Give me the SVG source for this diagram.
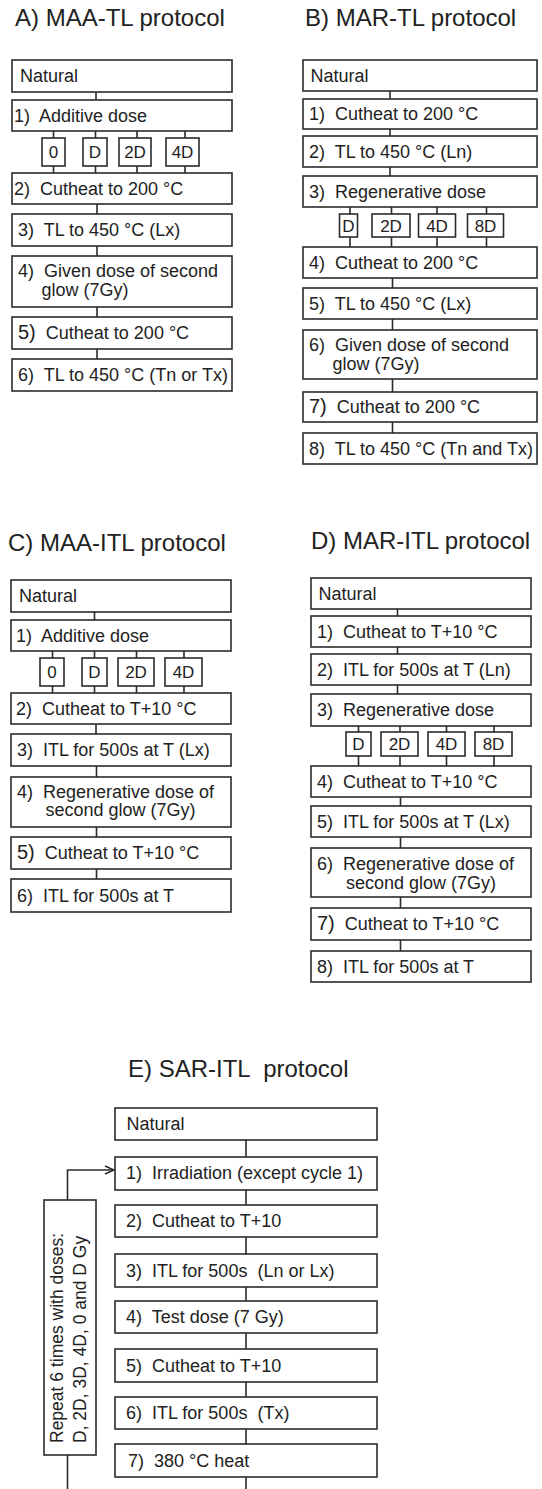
<svg xmlns="http://www.w3.org/2000/svg" width="542" height="1489" viewBox="0 0 542 1489">
<defs>
<style>
text{font-family:"Liberation Sans",Arial,sans-serif;fill:#222;white-space:pre}
.title{font-size:24px}
.t{font-size:18px}
.s{font-size:17px;text-anchor:middle}
.big{font-size:20px}
.rt{font-size:17.5px}
rect{fill:#fff;stroke:#2b2b2b;stroke-width:1.6}
.c line,.c path{stroke:#2b2b2b;stroke-width:1.6;fill:none}
</style>
<marker id="arr" markerWidth="12" markerHeight="10" refX="10" refY="5" orient="auto" markerUnits="userSpaceOnUse">
<path d="M1,1 L10,5 L1,9" fill="none" stroke="#2b2b2b" stroke-width="1.5"/>
</marker>
</defs>
<rect x="0" y="0" width="542" height="1489" style="fill:#fff;stroke:none"/>

<!-- Titles -->
<text class="title" x="15" y="26">A) MAA-TL protocol</text>
<text class="title" x="305" y="26">B) MAR-TL protocol</text>
<text class="title" x="8" y="551">C) MAA-ITL protocol</text>
<text class="title" x="311" y="549">D) MAR-ITL protocol</text>
<text class="title" x="128" y="1077">E) SAR-ITL  protocol</text>

<!-- Connectors -->
<g class="c" id="connectors">
<!-- A -->
<line x1="96" y1="92" x2="96" y2="100"/>
<line x1="53.5" y1="131" x2="53.5" y2="138"/><line x1="95.5" y1="131" x2="95.5" y2="138"/><line x1="137" y1="131" x2="137" y2="138"/><line x1="185" y1="131" x2="185" y2="138"/>
<line x1="53.5" y1="166" x2="53.5" y2="173"/><line x1="95.5" y1="166" x2="95.5" y2="173"/><line x1="137" y1="166" x2="137" y2="173"/><line x1="185" y1="166" x2="185" y2="173"/>
<line x1="97" y1="204" x2="97" y2="214"/>
<line x1="97" y1="246" x2="97" y2="256"/>
<line x1="97" y1="307" x2="97" y2="317"/>
<line x1="97" y1="349" x2="97" y2="359"/>
<!-- B -->
<line x1="390" y1="91" x2="390" y2="99"/>
<line x1="390" y1="129" x2="390" y2="136"/>
<line x1="390" y1="167" x2="390" y2="176"/>
<line x1="350" y1="207" x2="350" y2="214"/><line x1="391.5" y1="207" x2="391.5" y2="214"/><line x1="437" y1="207" x2="437" y2="214"/><line x1="486.5" y1="207" x2="486.5" y2="214"/>
<line x1="350" y1="237" x2="350" y2="247"/><line x1="391.5" y1="237" x2="391.5" y2="247"/><line x1="437" y1="237" x2="437" y2="247"/><line x1="486.5" y1="237" x2="486.5" y2="247"/>
<line x1="392.5" y1="278" x2="392.5" y2="288"/>
<line x1="392.5" y1="319" x2="392.5" y2="330"/>
<line x1="392.5" y1="379" x2="392.5" y2="392"/>
<line x1="392.5" y1="422" x2="392.5" y2="433"/>
<!-- C -->
<line x1="94.5" y1="612" x2="94.5" y2="620"/>
<line x1="52.5" y1="651" x2="52.5" y2="658"/><line x1="94.5" y1="651" x2="94.5" y2="658"/><line x1="136.5" y1="651" x2="136.5" y2="658"/><line x1="184" y1="651" x2="184" y2="658"/>
<line x1="52.5" y1="686" x2="52.5" y2="693"/><line x1="94.5" y1="686" x2="94.5" y2="693"/><line x1="136.5" y1="686" x2="136.5" y2="693"/><line x1="184" y1="686" x2="184" y2="693"/>
<line x1="96" y1="724" x2="96" y2="734"/>
<line x1="96.5" y1="766" x2="96.5" y2="777"/>
<line x1="96.5" y1="827" x2="96.5" y2="837"/>
<line x1="96.5" y1="869" x2="96.5" y2="879"/>
<!-- D -->
<line x1="397.5" y1="609" x2="397.5" y2="616"/>
<line x1="397.5" y1="647" x2="397.5" y2="654"/>
<line x1="397.5" y1="685" x2="397.5" y2="694"/>
<line x1="358.5" y1="726" x2="358.5" y2="732"/><line x1="400" y1="726" x2="400" y2="732"/><line x1="446.5" y1="726" x2="446.5" y2="732"/><line x1="494" y1="726" x2="494" y2="732"/>
<line x1="358.5" y1="756" x2="358.5" y2="766"/><line x1="400" y1="756" x2="400" y2="766"/><line x1="446.5" y1="756" x2="446.5" y2="766"/><line x1="494" y1="756" x2="494" y2="766"/>
<line x1="400.5" y1="797" x2="400.5" y2="806"/>
<line x1="400.5" y1="837" x2="400.5" y2="848"/>
<line x1="400.5" y1="897" x2="400.5" y2="908"/>
<line x1="400.5" y1="940" x2="400.5" y2="951"/>
<!-- E -->
<line x1="246" y1="1140" x2="246" y2="1157"/>
<line x1="246" y1="1190" x2="246" y2="1205"/>
<line x1="246" y1="1237" x2="246" y2="1254"/>
<line x1="246" y1="1287" x2="246" y2="1301"/>
<line x1="246" y1="1333" x2="246" y2="1349"/>
<line x1="246" y1="1382" x2="246" y2="1397"/>
<line x1="246" y1="1429" x2="246" y2="1444"/>
<line x1="246" y1="1477" x2="246" y2="1489"/>
<path d="M67.5,1200 V1170 H114" marker-end="url(#arr)"/>
<line x1="67.5" y1="1455" x2="67.5" y2="1489"/>
</g>

<!-- Panel A -->
<g id="A-natural"><rect x="12" y="60" width="220" height="32"/><text class="t" x="20" y="82">Natural</text></g>
<g id="A-1"><rect x="12" y="100" width="220" height="31"/><text class="t" x="14" y="121.5">1)  Additive dose</text></g>
<g id="A-d0"><rect x="42" y="138" width="23" height="28"/><text class="s" x="53.5" y="158">0</text></g>
<g id="A-d1"><rect x="83" y="138" width="24" height="28"/><text class="s" x="95" y="158">D</text></g>
<g id="A-d2"><rect x="119" y="138" width="32" height="28"/><text class="s" x="135" y="158">2D</text></g>
<g id="A-d4"><rect x="166" y="138" width="33" height="28"/><text class="s" x="182.5" y="158">4D</text></g>
<g id="A-2"><rect x="12" y="173" width="220" height="31"/><text class="t" x="14" y="194.5">2)  Cutheat to 200 °C</text></g>
<g id="A-3"><rect x="12" y="214" width="220" height="32"/><text class="t" x="18" y="236">3)  TL to 450 °C (Lx)</text></g>
<g id="A-4"><rect x="12" y="256" width="220" height="51"/><text class="t" x="18" y="277">4)  Given dose of second</text><text class="t" x="41.5" y="296">glow (7Gy)</text></g>
<g id="A-5"><rect x="12" y="317" width="220" height="32"/><text class="t" x="18" y="339"><tspan class="big">5)</tspan>  Cutheat to 200 °C</text></g>
<g id="A-6"><rect x="12" y="359" width="220" height="32"/><text class="t" x="18" y="381">6)  TL to 450 °C (Tn or Tx)</text></g>

<!-- Panel B -->
<g id="B-natural"><rect x="303" y="60" width="234" height="31"/><text class="t" x="310.5" y="81.5">Natural</text></g>
<g id="B-1"><rect x="303" y="99" width="234" height="30"/><text class="t" x="309" y="120">1)  Cutheat to 200 °C</text></g>
<g id="B-2"><rect x="303" y="136" width="234" height="31"/><text class="t" x="309" y="157.5">2)  TL to 450 °C (Ln)</text></g>
<g id="B-3"><rect x="303" y="176" width="234" height="31"/><text class="t" x="309" y="197.5">3)  Regenerative dose</text></g>
<g id="B-dD"><rect x="339.5" y="214" width="18" height="23"/><text class="s" x="348.5" y="231.5">D</text></g>
<g id="B-d2"><rect x="372" y="214" width="38" height="23"/><text class="s" x="391" y="231.5">2D</text></g>
<g id="B-d4"><rect x="418.5" y="214" width="37" height="23"/><text class="s" x="437" y="231.5">4D</text></g>
<g id="B-d8"><rect x="467.5" y="214" width="36" height="23"/><text class="s" x="485.5" y="231.5">8D</text></g>
<g id="B-4"><rect x="303" y="247" width="234" height="31"/><text class="t" x="309" y="268.5">4)  Cutheat to 200 °C</text></g>
<g id="B-5"><rect x="303" y="288" width="234" height="31"/><text class="t" x="309" y="309.5">5)  TL to 450 °C (Lx)</text></g>
<g id="B-6"><rect x="303" y="330" width="234" height="49"/><text class="t" x="309" y="350.5">6)  Given dose of second</text><text class="t" x="332.5" y="370">glow (7Gy)</text></g>
<g id="B-7"><rect x="303" y="392" width="234" height="30"/><text class="t" x="309" y="413"><tspan class="big">7)</tspan>  Cutheat to 200 °C</text></g>
<g id="B-8"><rect x="303" y="433" width="234" height="31"/><text class="t" x="309" y="454.5">8)  TL to 450 °C (Tn and Tx)</text></g>

<!-- Panel C -->
<g id="C-natural"><rect x="11" y="580" width="220" height="32"/><text class="t" x="19" y="602">Natural</text></g>
<g id="C-1"><rect x="11" y="620" width="220" height="31"/><text class="t" x="16" y="641.5">1)  Additive dose</text></g>
<g id="C-d0"><rect x="40" y="658" width="24" height="28"/><text class="s" x="52" y="678">0</text></g>
<g id="C-d1"><rect x="82" y="658" width="25" height="28"/><text class="s" x="94.5" y="678">D</text></g>
<g id="C-d2"><rect x="118" y="658" width="36" height="28"/><text class="s" x="136" y="678">2D</text></g>
<g id="C-d4"><rect x="165" y="658" width="37" height="28"/><text class="s" x="183.5" y="678">4D</text></g>
<g id="C-2"><rect x="11" y="693" width="220" height="31"/><text class="t" x="16" y="714.5">2)  Cutheat to T+10 °C</text></g>
<g id="C-3"><rect x="11" y="734" width="220" height="32"/><text class="t" x="17" y="756">3)  ITL for 500s at T (Lx)</text></g>
<g id="C-4"><rect x="11" y="777" width="220" height="50"/><text class="t" x="17" y="797.5">4)  Regenerative dose of</text><text class="t" x="45.5" y="816">second glow (7Gy)</text></g>
<g id="C-5"><rect x="11" y="837" width="220" height="32"/><text class="t" x="17" y="859"><tspan class="big">5)</tspan>  Cutheat to T+10 °C</text></g>
<g id="C-6"><rect x="11" y="879" width="220" height="33"/><text class="t" x="17" y="901.5">6)  ITL for 500s at T</text></g>

<!-- Panel D -->
<g id="D-natural"><rect x="311" y="578" width="220" height="31"/><text class="t" x="318.5" y="599.5">Natural</text></g>
<g id="D-1"><rect x="311" y="616" width="220" height="31"/><text class="t" x="317" y="637.5">1)  Cutheat to T+10 °C</text></g>
<g id="D-2"><rect x="311" y="654" width="220" height="31"/><text class="t" x="317" y="675.5">2)  ITL for 500s at T (Ln)</text></g>
<g id="D-3"><rect x="311" y="694" width="220" height="32"/><text class="t" x="317" y="716">3)  Regenerative dose</text></g>
<g id="D-dD"><rect x="346" y="732" width="25" height="24"/><text class="s" x="358.5" y="750">D</text></g>
<g id="D-d2"><rect x="381" y="732" width="37" height="24"/><text class="s" x="399.5" y="750">2D</text></g>
<g id="D-d4"><rect x="428" y="732" width="37" height="24"/><text class="s" x="446.5" y="750">4D</text></g>
<g id="D-d8"><rect x="475" y="732" width="37" height="24"/><text class="s" x="493.5" y="750">8D</text></g>
<g id="D-4"><rect x="311" y="766" width="220" height="31"/><text class="t" x="317" y="787.5">4)  Cutheat to T+10 °C</text></g>
<g id="D-5"><rect x="311" y="806" width="220" height="31"/><text class="t" x="317" y="827.5">5)  ITL for 500s at T (Lx)</text></g>
<g id="D-6"><rect x="311" y="848" width="220" height="49"/><text class="t" x="317" y="870">6)  Regenerative dose of</text><text class="t" x="346" y="888.5">second glow (7Gy)</text></g>
<g id="D-7"><rect x="311" y="908" width="220" height="32"/><text class="t" x="317" y="930"><tspan class="big">7)</tspan>  Cutheat to T+10 °C</text></g>
<g id="D-8"><rect x="311" y="951" width="220" height="31"/><text class="t" x="317" y="972.5">8)  ITL for 500s at T</text></g>

<!-- Panel E -->
<g id="E-natural"><rect x="115" y="1108" width="262" height="32"/><text class="t" x="126.5" y="1130">Natural</text></g>
<g id="E-1"><rect x="115" y="1157" width="262" height="33"/><text class="t" x="126" y="1179">1)  Irradiation (except cycle 1)</text></g>
<g id="E-2"><rect x="115" y="1205" width="262" height="32"/><text class="t" x="126" y="1227">2)  Cutheat to T+10</text></g>
<g id="E-3"><rect x="115" y="1254" width="262" height="33"/><text class="t" x="126" y="1276.5">3)  ITL for 500s  (Ln or Lx)</text></g>
<g id="E-4"><rect x="115" y="1301" width="262" height="32"/><text class="t" x="126" y="1323">4)  Test dose (7 Gy)</text></g>
<g id="E-5"><rect x="115" y="1349" width="262" height="33"/><text class="t" x="126" y="1371.5">5)  Cutheat to T+10</text></g>
<g id="E-6"><rect x="115" y="1397" width="262" height="32"/><text class="t" x="126" y="1419">6)  ITL for 500s  (Tx)</text></g>
<g id="E-7"><rect x="115" y="1444" width="262" height="33"/><text class="t" x="128" y="1466.5">7)  380 °C heat</text></g>
<g id="E-repeat"><rect x="44" y="1200" width="52" height="255"/>
<text class="rt" transform="translate(63,1443) rotate(-90)">Repeat 6 times with doses:</text>
<text class="rt" transform="translate(85.5,1443) rotate(-90)">D, 2D, 3D, 4D, 0 and D Gy</text></g>
</svg>
